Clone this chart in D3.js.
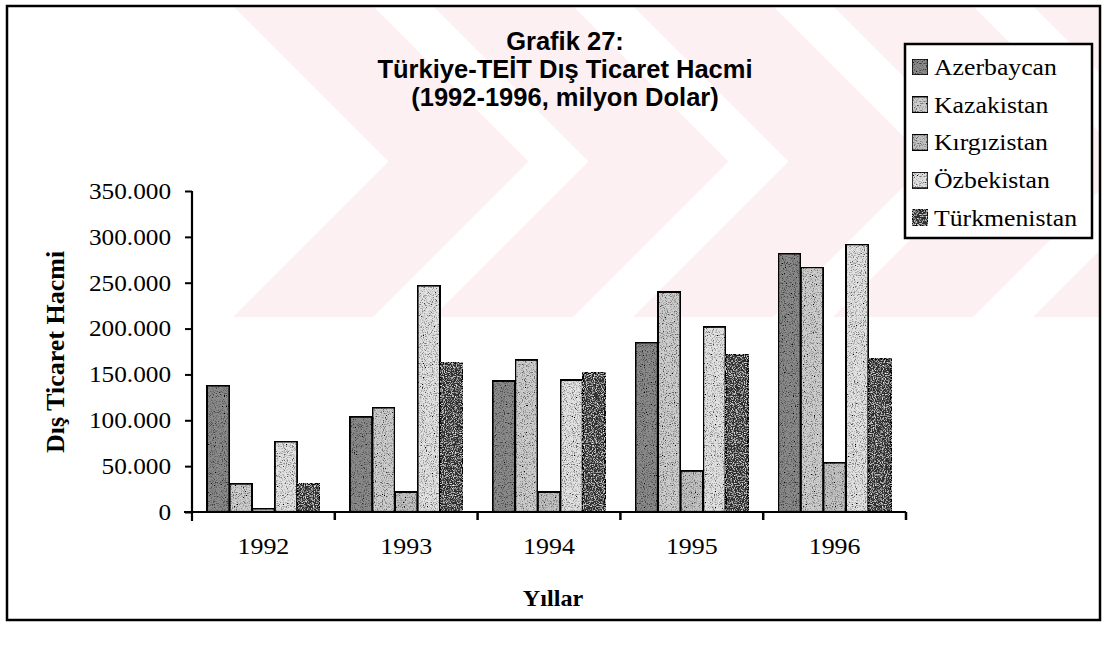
<!DOCTYPE html>
<html>
<head>
<meta charset="utf-8">
<script src="https://cdn.jsdelivr.net/npm/d3@7"></script>
<style>
  body { margin: 0; background: #fff; }
  svg { display: block; }
</style>
</head>
<body>
<svg id="chart" width="1109" height="645"></svg>
<script>
// Data (million USD)
const years = ['1992', '1993', '1994', '1995', '1996'];
const countries = ['Azerbaycan', 'Kazakistan', 'Kırgızistan', 'Özbekistan', 'Türkmenistan'];
const azerbaycan = [138000, 104000, 143000, 185000, 282000];
const kazakistan = [31000, 114000, 166000, 240000, 267000];
const kirgizistan = [4000, 22000, 22000, 45000, 54000];
const ozbekistan = [77000, 247000, 144000, 202000, 292000];
const turkmenistan = [31000, 163000, 152000, 172000, 167000];
const yTicks = [0, 50000, 100000, 150000, 200000, 250000, 300000, 350000];

const seriesValues = [azerbaycan, kazakistan, kirgizistan, ozbekistan, turkmenistan];

// Look of each series: base grey + speckle filter
const seriesStyle = [
  {fill: '#8a8a8a', grain: 'grain-dark'},
  {fill: '#cdcdcd', grain: 'grain-dark'},
  {fill: '#c2c2c2', grain: 'grain-dark'},
  {fill: '#e2e2e2', grain: 'grain-dark'},
  {fill: '#2e2e2e', grain: 'grain-light'}
];

const svg = d3.select('#chart');
const serif = '"Liberation Serif", "Times New Roman", serif';
const sans = '"Liberation Sans", Arial, sans-serif';

// Layout
const plot = {left: 192, right: 906, top: 191, bottom: 512};

// Filters for the scanned speckle look
const defs = svg.append('defs');
const addGrain = (id, dotColor, freq, strength) => {
  let f = defs.append('filter')
    .attr('id', id)
    .attr('x', 0).attr('y', 0).attr('width', 1).attr('height', 1);
  f.append('feTurbulence')
    .attr('type', 'fractalNoise')
    .attr('baseFrequency', freq)
    .attr('numOctaves', 2)
    .attr('seed', 7)
    .attr('result', 'noise');
  f.append('feColorMatrix')
    .attr('in', 'noise')
    .attr('type', 'matrix')
    .attr('values', `0 0 0 0 ${dotColor} 0 0 0 0 ${dotColor} 0 0 0 0 ${dotColor} 0 0 0 ${strength} ${-strength / 2 + 0.05}`)
    .attr('result', 'dots');
  f.append('feComposite')
    .attr('in', 'dots')
    .attr('in2', 'SourceAlpha')
    .attr('operator', 'in')
    .attr('result', 'clipped');
  let m = f.append('feMerge');
  m.append('feMergeNode').attr('in', 'SourceGraphic');
  m.append('feMergeNode').attr('in', 'clipped');
};
addGrain('grain-dark', 0, 0.9, 3);
addGrain('grain-light', 1, 0.9, 2.4);

// Background watermark (pale chevrons of the scanned page)
const wmClip = defs.append('clipPath').attr('id', 'wm-clip');
wmClip.append('rect')
  .attr('x', 150).attr('y', 6).attr('width', 950).attr('height', 311);

const chevronStarts = [233, 433, 633, 833, 1033];
const chevronW = 140;
const chevronH = 311;
const chevron = x0 => {
  let t = 6, b = t + chevronH, m = t + chevronH / 2, d = chevronH / 2;
  return [[x0, t], [x0 + chevronW, t], [x0 + chevronW + d, m],
    [x0 + chevronW, b], [x0, b], [x0 + d, m]];
};
svg.append('g')
  .attr('clip-path', 'url(#wm-clip)')
  .selectAll('polygon')
  .data(chevronStarts)
  .join('polygon')
  .attr('points', d => chevron(d).map(p => p.join(',')).join(' '))
  .style('fill', '#fdf0f2');

// Outer frame
svg.append('rect')
  .attr('x', 7).attr('y', 6)
  .attr('width', 1093).attr('height', 614)
  .style('fill', 'none')
  .style('stroke', '#000')
  .style('stroke-width', 2.5);

// Scales
const x0 = d3.scaleBand()
  .domain(years)
  .range([plot.left, plot.right])
  .paddingInner(0)
  .paddingOuter(0);

const x1 = d3.scaleBand()
  .domain(countries)
  .range([0, x0.bandwidth()])
  .paddingInner(0)
  .paddingOuter(0.66);

const y = d3.scaleLinear()
  .domain([0, 350000])
  .range([plot.bottom, plot.top]);

const trLocale = d3.formatLocale({decimal: ',', thousands: '.', grouping: [3], currency: ['', '']});
const fmt = trLocale.format(',d');

// Bars
const barData = [];
years.forEach((yr, i) => {
  countries.forEach((c, j) => {
    barData.push({year: yr, country: c, idx: j, value: seriesValues[j][i]});
  });
});

svg.append('g')
  .attr('class', 'bars')
  .selectAll('rect')
  .data(barData)
  .join('rect')
  .attr('x', d => x0(d.year) + x1(d.country))
  .attr('y', d => y(d.value))
  .attr('width', x1.bandwidth())
  .attr('height', d => y(0) - y(d.value))
  .style('fill', d => seriesStyle[d.idx].fill)
  .style('stroke', '#000')
  .style('stroke-width', 2.2)
  .attr('filter', d => `url(#${seriesStyle[d.idx].grain})`);

// Y axis
const yAxis = d3.axisLeft(y)
  .tickValues(yTicks)
  .tickFormat(fmt)
  .tickSize(7)
  .tickSizeOuter(0)
  .tickPadding(12);

const yG = svg.append('g')
  .attr('transform', `translate(${plot.left}, 0)`)
  .call(yAxis);
yG.select('.domain')
  .attr('d', `M0,${plot.top}V${plot.bottom + 9}`)
  .style('stroke-width', 2.2);
yG.selectAll('line').style('stroke-width', 2);
yG.selectAll('text')
  .style('font-family', serif)
  .style('font-size', '23px')
  .style('fill', '#000')
  .attr('transform', 'scale(1.1,1)');

// X axis
const xAxis = d3.axisBottom(x0)
  .tickSize(0)
  .tickPadding(25);

const xG = svg.append('g')
  .attr('transform', `translate(0, ${plot.bottom})`)
  .call(xAxis);
xG.select('.domain')
  .attr('d', `M${plot.left - 8},0H${plot.right}`)
  .style('stroke-width', 2.2);
xG.selectAll('text')
  .style('font-family', serif)
  .style('font-size', '24px')
  .style('fill', '#000')
  .attr('transform', 'scale(1.08,1)');

// Category separators (ticks between years)
svg.append('g')
  .selectAll('line')
  .data(years.slice(1).concat(['end']))
  .join('line')
  .attr('x1', d => d === 'end' ? plot.right : x0(d))
  .attr('x2', d => d === 'end' ? plot.right : x0(d))
  .attr('y1', plot.bottom)
  .attr('y2', plot.bottom + 8)
  .style('stroke', '#000')
  .style('stroke-width', 2.5);

// Axis titles
svg.append('text')
  .attr('transform', 'translate(64, 352) rotate(-90)')
  .attr('text-anchor', 'middle')
  .style('font-family', serif)
  .style('font-weight', 'bold')
  .style('font-size', '26px')
  .text('Dış Ticaret Hacmi');

svg.append('text')
  .attr('transform', 'translate(553, 606) scale(1.05,1)')
  .attr('text-anchor', 'middle')
  .style('font-family', serif)
  .style('font-weight', 'bold')
  .style('font-size', '23px')
  .text('Yıllar');

// Title
const titleLines = ['Grafik 27:', 'Türkiye-TEİT Dış Ticaret Hacmi', '(1992-1996, milyon Dolar)'];
svg.append('g')
  .selectAll('text')
  .data(titleLines)
  .join('text')
  .attr('x', 565)
  .attr('y', (d, i) => 50 + i * 28)
  .attr('text-anchor', 'middle')
  .style('font-family', sans)
  .style('font-weight', 'bold')
  .style('font-size', '25.5px')
  .style('fill', '#000')
  .text(d => d);

// Legend
const legend = svg.append('g').attr('class', 'legend');
legend.append('rect')
  .attr('x', 905).attr('y', 44)
  .attr('width', 187).attr('height', 194)
  .style('fill', '#fff')
  .style('stroke', '#000')
  .style('stroke-width', 2.5);

const legendItems = legend.selectAll('g.item')
  .data(countries)
  .join('g')
  .attr('class', 'item')
  .attr('transform', (d, i) => `translate(912, ${67 + i * 37.7})`);

legendItems.append('rect')
  .attr('x', 0).attr('y', -8)
  .attr('width', 16).attr('height', 16)
  .style('fill', (d, i) => seriesStyle[i].fill)
  .style('stroke', '#000')
  .style('stroke-width', 1.5)
  .attr('filter', (d, i) => `url(#${seriesStyle[i].grain})`);

legendItems.append('text')
  .attr('transform', 'translate(22, 8) scale(1.12,1)')
  .style('font-family', serif)
  .style('font-size', '23px')
  .style('fill', '#000')
  .text(d => d);
</script>
</body>
</html>
